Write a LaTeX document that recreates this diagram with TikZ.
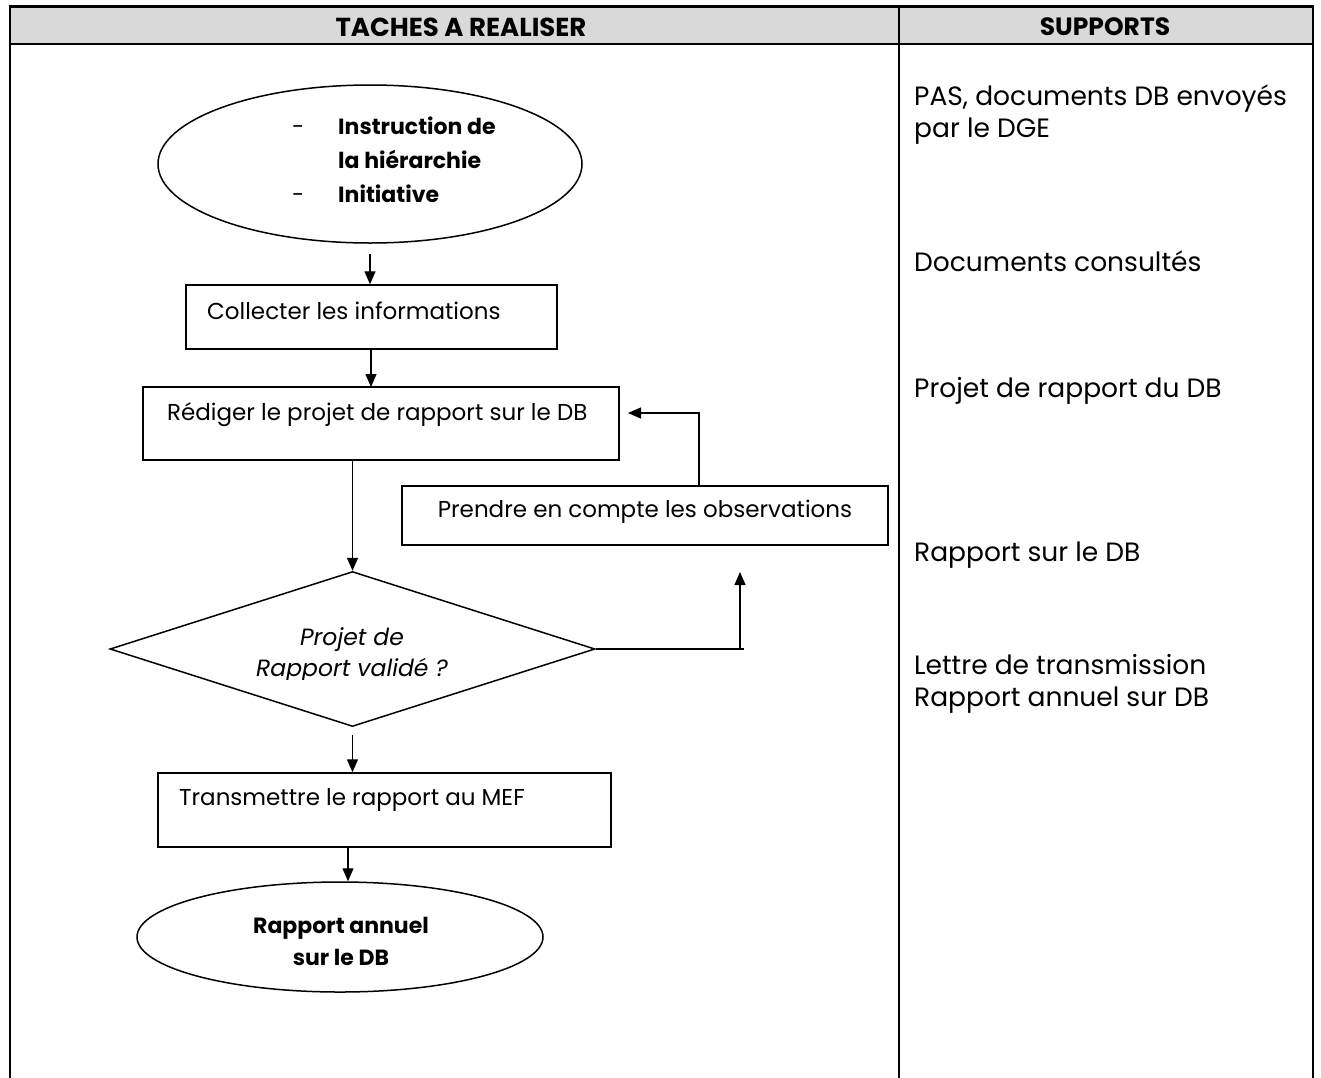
\documentclass[tikz,border=0pt]{standalone}
\usepackage{fontspec}
\setmainfont{Poppins}
\usetikzlibrary{shapes.geometric,arrows.meta,calc}

\begin{document}
\begin{tikzpicture}[x=1pt,y=-1pt,
  tbl/.style={line width=2.2pt},
  box/.style={draw,line width=1.5pt,rectangle,inner sep=0pt},
  oval/.style={draw,line width=1.5pt,ellipse,inner sep=0pt},
  losange/.style={draw,line width=1.5pt,diamond,inner sep=0pt},
  arr/.style={line width=1.4pt,-{Triangle[length=13pt,width=11pt]}},
  link/.style={line width=1.4pt},
  hdr/.style={font=\fontsize{26}{30}\selectfont\bfseries,inner sep=0pt},
  flow/.style={font=\fontsize{23}{28}\selectfont,inner sep=0pt},
  italtxt/.style={font=\fontsize{23.5}{28}\selectfont\itshape,inner sep=0pt,anchor=base},
  boldtxt/.style={font=\fontsize{22}{34}\selectfont\bfseries,inner sep=0pt,align=center},
  side/.style={font=\fontsize{26.5}{32}\selectfont,inner sep=0pt,anchor=west,align=left}]

\useasboundingbox (0,0) rectangle (1321,1077);

% table frame with grey header row
\fill[gray!30] (10,6.5) rectangle (1313,44);
\draw[tbl] (10,1082) -- (10,6.5) -- (1313,6.5) -- (1313,1082);
\draw[tbl] (10,44) -- (1313,44);
\draw[tbl] (899,6.5) -- (899,1082);
\node[hdr] (h1) at (461,27) {TACHES A REALISER};
\node[hdr, font=\fontsize{25}{30}\selectfont\bfseries] (h2) at (1105,27) {SUPPORTS};

% flowchart shapes
\node[oval, minimum width=424pt, minimum height=158pt] (start) at (370,164) {};
\node[boldtxt, anchor=west] (starttxt) at (292,162)
  {\begin{tabular}{@{}p{46pt}@{}l@{}}\mdseries -& Instruction de\\ & la hiérarchie\\ \mdseries -& Initiative\end{tabular}};

\node[box, minimum width=371pt, minimum height=64pt] (collect) at (371.5,317) {};
\node[flow, anchor=west] (collecttxt) at (207,311) {Collecter les informations};

\node[box, minimum width=476pt, minimum height=73pt] (redige) at (381,423.5) {};
\node[flow, anchor=west] (redigetxt) at (167,415) {Rédiger le projet de rapport sur le DB};

\node[box, minimum width=486pt, minimum height=59pt] (prendre) at (645,515.5) {};
\node[flow] (prendretxt) at (645,512) {Prendre en compte les observations};

\node[losange, minimum width=485pt, minimum height=155pt] (valid) at (352.5,649) {};
\begin{scope}
  \clip (150,600) rectangle (560,679);
  \node[italtxt] (validtxt1) at (352,645) {Projet de};
  \node[italtxt] (validtxt2) at (352,676) {Rapport validé ?};
\end{scope}

\node[box, minimum width=453pt, minimum height=74pt] (trans) at (384.5,810) {};
\node[flow, anchor=west] (transtxt) at (179,800) {Transmettre le rapport au MEF};

\node[oval, minimum width=406pt, minimum height=110pt] (fin) at (340,937) {};
\node[boldtxt, font=\fontsize{22}{32}\selectfont\bfseries] (fintxt) at (341,941) {Rapport annuel\\sur le DB};

% connectors
\coordinate (backtip) at (628,413);
\coordinate (rtend) at (744,649);
\coordinate (uptip) at (740,572);

\draw[arr] ([yshift=-10pt]start.south) -- (start.south |- collect.north);
\draw[arr] (collect.south -| 371,0) -- (371,387);
\draw[arr] (valid.north |- redige.south) -- (valid.north);
\draw[link] (valid.east) -- (rtend);
\draw[arr] (uptip |- valid.east) -- (uptip);
\draw[arr] ([xshift=54pt]prendre.north) |- (backtip);
\draw[arr] ([yshift=-8pt]valid.south) -- (valid.south |- trans.north);
\draw[arr] ([xshift=8pt]fin.north |- trans.south) -- ([xshift=8pt]fin.north);

% supports column
\node[side] (s1) at (914,115) {PAS, documents DB envoyés\\par le DGE};
\node[side] (s2) at (914,261) {Documents consultés};
\node[side] (s3) at (914,391) {Projet de rapport du DB};
\node[side] (s4) at (914,555) {Rapport sur le DB};
\node[side] (s5) at (914,684) {Lettre de transmission\\Rapport annuel sur DB};
\end{tikzpicture}
\end{document}
